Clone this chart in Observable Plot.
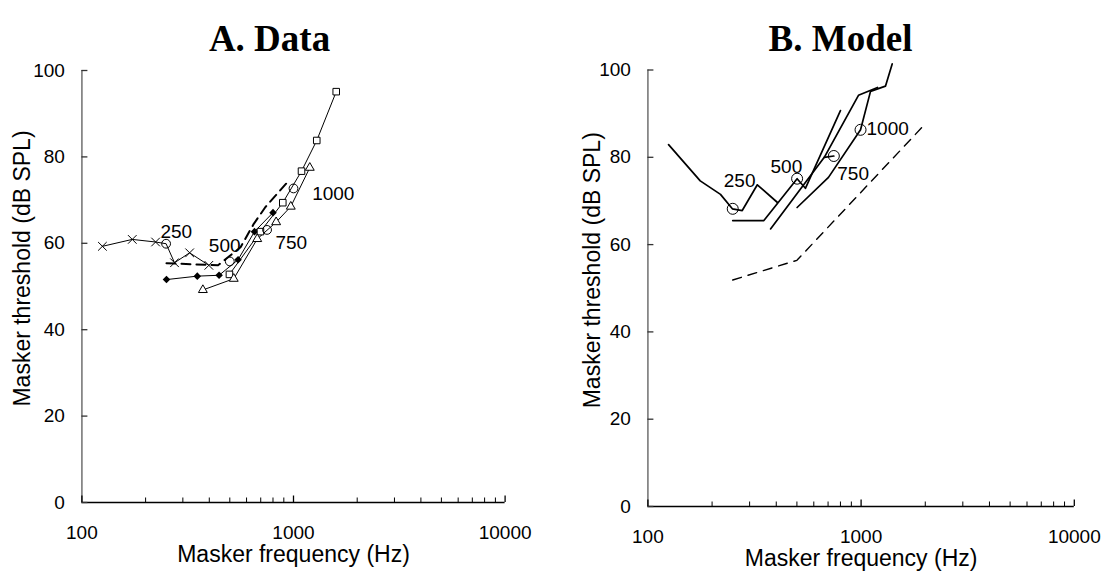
<!DOCTYPE html>
<html><head><meta charset="utf-8">
<script src="https://cdn.jsdelivr.net/npm/d3@7"></script>
<script src="https://cdn.jsdelivr.net/npm/@observablehq/plot@0.6"></script>
<style>
body{margin:0;background:#fff;}
#wrap{position:relative;width:1108px;height:573px;overflow:hidden;background:#fff;}
#a,#b{position:absolute;top:0;}
#a{left:0;} #b{left:554px;}
</style></head><body>
<div id="wrap"><div id="a"></div><div id="b"></div></div>
<script>
// ---------- axis ticks ----------
const xMajorTicks = [100, 1000, 10000];
const xMinorTicks = [200,300,400,500,600,700,800,900,2000,3000,4000,5000,6000,7000,8000,9000];
const yTicks = [0, 20, 40, 60, 80, 100];
const xTitle = "Masker frequency (Hz)";
const yTitle = "Masker threshold (dB SPL)";

// ---------- Panel A: Data ----------
const aCrossFreq = [125, 173, 223, 250, 274, 323, 398];
const aCrossThr  = [59.3, 60.9, 60.3, 59.9, 55.5, 57.8, 54.9];
const aDiamondFreq = [251, 351, 445, 547, 654, 800];
const aDiamondThr  = [51.6, 52.4, 52.6, 56.2, 62.7, 67.1];
const aSquareFreq = [498, 698, 890, 1091, 1288, 1592];
const aSquareThr  = [52.8, 62.7, 69.4, 76.7, 83.8, 95.1];
const aTriFreq = [373, 522, 674, 828, 971, 1194];
const aTriThr  = [49.2, 51.8, 61.0, 64.9, 68.5, 77.5];
const aDashFreq = [251, 440, 562, 649, 737, 950];
const aDashThr  = [55.4, 54.9, 59.1, 64.5, 68.4, 74.5];
const aProbeFreq = [250, 500, 750, 1000];
const aProbeThr  = [59.9, 55.8, 63.1, 72.7];
const aLabelText = ["250", "500", "750", "1000"];
const aLabelFreq = [235, 398, 822, 1225];
const aLabelThr  = [62.6, 59.3, 60.0, 71.5];

// ---------- Panel B: Model ----------
const b250Freq = [125, 176, 219, 249, 277, 326, 404];
const b250Thr  = [82.9, 74.6, 71.5, 68.2, 67.8, 73.7, 69.7];
const b500Freq = [250, 350, 501, 548, 800];
const b500Thr  = [65.5, 65.5, 75.1, 72.9, 90.7];
const b750Freq = [376, 672, 972, 1194];
const b750Thr  = [63.6, 80.0, 94.2, 96.0];
const b750HookFreq = [672, 745];
const b750HookThr  = [80.0, 80.3];
const b1000Freq = [501, 703, 994, 1107, 1301, 1399];
const b1000Thr  = [68.5, 75.4, 86.3, 95.1, 96.3, 101.4];
const bDashFreq = [250, 500, 1968];
const bDashThr  = [51.9, 56.4, 87.3];
const bProbeFreq = [250, 501, 745, 994];
const bProbeThr  = [68.2, 75.1, 80.3, 86.3];
const bLabelText = ["250", "500", "750", "1000"];
const bLabelFreq = [227, 376, 773, 1060];
const bLabelThr  = [74.7, 77.9, 76.1, 86.6];

const rows = (fs, ts, s) => fs.map((f, i) => ({f, t: ts[i], s}));
const lab = (txt, fs, ts) => txt.map((text, i) => ({text, f: fs[i], t: ts[i]}));

const W = 554, H = 573;
function panel(cfg) {
  const {ml, mr, mt, mb} = cfg;
  const fw = W - ml - mr, fh = H - mt - mb;
  const marks = [
    Plot.ruleX([100], {stroke: "#808080", strokeWidth: 1.7}),
    Plot.ruleY([0], {stroke: "#000", strokeWidth: 1.4}),
    Plot.tickX(xMinorTicks, {x: d => d, insetTop: fh - 4.5, stroke: "#000", strokeWidth: 1}),
    Plot.tickX(xMajorTicks, {x: d => d, insetTop: fh - 6.5, stroke: "#000", strokeWidth: 1.3}),
    Plot.tickY(yTicks, {y: d => d, insetRight: fw - 6, stroke: "#333", strokeWidth: 1.3}),
    Plot.text(xMajorTicks, {x: d => d, frameAnchor: "bottom", dy: 36, text: d => String(d), fontSize: 19}),
    Plot.text(yTicks, {y: d => d, frameAnchor: "left", dx: -17, textAnchor: "end", text: d => String(d), fontSize: 19}),
    Plot.text([xTitle], {frameAnchor: "bottom", dy: 59, text: d => d, fontSize: 23}),
    Plot.text([yTitle], {frameAnchor: "left", textAnchor: "middle", rotate: -90, dx: cfg.ytDx, dy: cfg.ytDy, text: d => d, fontSize: 23}),
    Plot.text([cfg.title], {frameAnchor: "top", textAnchor: "middle", lineAnchor: "bottom", dx: cfg.tDx, dy: cfg.tDy, text: d => d,
      fontSize: 37, fontWeight: "bold", fontFamily: "Liberation Serif"}),
    ...cfg.marks
  ];
  return Plot.plot({
    width: W, height: H, marginLeft: ml, marginRight: mr, marginTop: mt, marginBottom: mb,
    x: {type: "log", domain: [100, 10000], axis: null},
    y: {domain: [0, 100], axis: null},
    style: {fontFamily: "Liberation Sans, Arial, sans-serif", color: "#000", background: "#fff", overflow: "visible"},
    marks
  });
}

// Panel A marks
const aLines = [
  ...rows(aCrossFreq, aCrossThr, "x"),
  ...rows(aDiamondFreq, aDiamondThr, "d"),
  ...rows(aSquareFreq, aSquareThr, "s"),
  ...rows(aTriFreq, aTriThr, "t")
];
const aMarks = [
  Plot.line(aLines, {x: "f", y: "t", z: "s", stroke: "#000", strokeWidth: 1}),
  Plot.line(rows(aDashFreq, aDashThr, "m"), {x: "f", y: "t", stroke: "#000", strokeWidth: 2, strokeDasharray: "9,6"}),
  Plot.dot(rows(aCrossFreq, aCrossThr, "x").filter(d => !aProbeFreq.includes(d.f)), {x: "f", y: "t", symbol: "times", r: 4, stroke: "#000", strokeWidth: 1}),
  Plot.dot(rows(aDiamondFreq, aDiamondThr, "d"), {x: "f", y: "t", symbol: "diamond2", r: 3.4, fill: "#000", stroke: "none"}),
  Plot.dot(rows(aSquareFreq, aSquareThr, "s"), {x: "f", y: "t", symbol: "square", r: 3.7, fill: "#fff", stroke: "#000", strokeWidth: 1}),
  Plot.dot(rows(aTriFreq, aTriThr, "t"), {x: "f", y: "t", symbol: "triangle", r: 3.3, fill: "#fff", stroke: "#000", strokeWidth: 1}),
  Plot.dot(rows(aProbeFreq, aProbeThr, "p"), {x: "f", y: "t", r: 4.4, fill: "none", stroke: "#000", strokeWidth: 1}),
  Plot.text(lab(aLabelText, aLabelFreq, aLabelThr), {x: "f", y: "t", text: "text", textAnchor: "start", fontSize: 19})
];

// Panel B marks
const bLines = [
  ...rows(b250Freq, b250Thr, "250"),
  ...rows(b500Freq, b500Thr, "500"),
  ...rows(b750Freq, b750Thr, "750"),
  ...rows(b750HookFreq, b750HookThr, "750h"),
  ...rows(b1000Freq, b1000Thr, "1000")
];
const bMarks = [
  Plot.line(bLines, {x: "f", y: "t", z: "s", stroke: "#000", strokeWidth: 1.7}),
  Plot.line(rows(bDashFreq, bDashThr, "m"), {x: "f", y: "t", stroke: "#000", strokeWidth: 1.4, strokeDasharray: "9,7"}),
  Plot.dot(rows(bProbeFreq, bProbeThr, "p"), {x: "f", y: "t", r: 5.5, fill: "none", stroke: "#000", strokeWidth: 1}),
  Plot.text(lab(bLabelText, bLabelFreq, bLabelThr), {x: "f", y: "t", text: "text", textAnchor: "start", fontSize: 19})
];

document.getElementById("a").appendChild(panel({
  title: "A. Data", ml: 81.4, mr: 49.4, mt: 70, mb: 71,
  tDx: -24, tDy: -20, ytDx: -59.4, ytDy: -18, marks: aMarks
}));
document.getElementById("b").appendChild(panel({
  title: "B. Model", ml: 93.4, mr: 34.2, mt: 69.5, mb: 67,
  tDx: -20.6, tDy: -19.5, ytDx: -55.4, ytDy: -18, marks: bMarks
}));
</script>
</body></html>
